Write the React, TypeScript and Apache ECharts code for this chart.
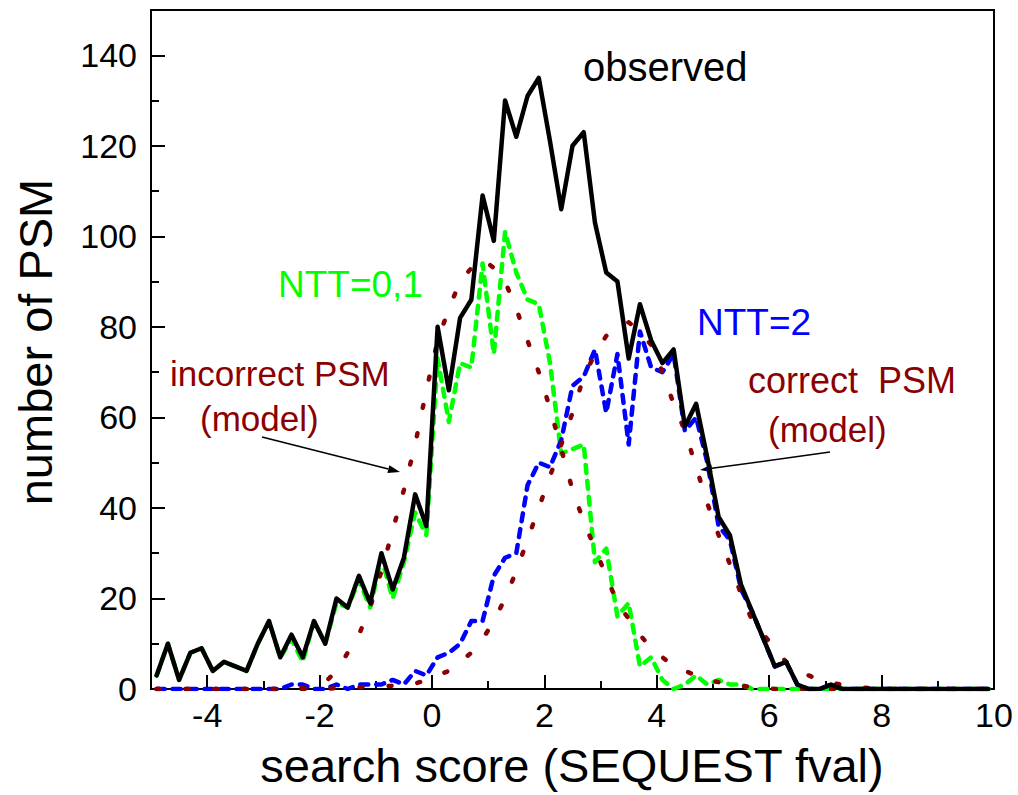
import React, { useEffect, useRef } from 'react';
import * as echarts from 'echarts';

// bin centres of the score histogram
const binCenters = [
  -4.9, -4.7, -4.5, -4.3, -4.1, -3.9, -3.7, -3.5, -3.3, -3.1,
  -2.9, -2.7, -2.5, -2.3, -2.1, -1.9, -1.7, -1.5, -1.3, -1.1,
  -0.9, -0.7, -0.5, -0.3, -0.1, 0.1, 0.3, 0.5, 0.7, 0.9,
  1.1, 1.3, 1.5, 1.7, 1.9, 2.1, 2.3, 2.5, 2.7, 2.9,
  3.1, 3.3, 3.5, 3.7, 3.9, 4.1, 4.3, 4.5, 4.7, 4.9,
  5.1, 5.3, 5.5, 5.7, 5.9, 6.1, 6.3, 6.5, 6.7, 6.9,
  7.1, 7.3, 7.5, 7.7, 7.9, 8.1, 8.3, 8.5, 8.7, 8.9,
  9.1, 9.3, 9.5, 9.7, 9.9,
];

const observed = [
  3, 10, 2, 8, 9, 4, 6, 5, 4, 10,
  15, 7, 12, 7, 15, 10, 20, 18, 25, 19,
  30, 22, 29, 43, 36, 80, 66, 82, 86, 109,
  99, 130, 122, 131, 135, 121, 106, 120, 123, 103,
  92, 90, 73, 85, 77, 72, 75, 58, 63, 51,
  38, 34, 23, 17, 11, 5, 6, 1, 0, 0,
  1, 0, 0, 0, 0, 0, 0, 0, 0, 0,
  0, 0, 0, 0, 0,
];

const ntt01 = [
  3, 10, 2, 8, 9, 4, 6, 5, 4, 10,
  15, 7, 11, 6, 15, 10, 19, 18, 24, 18,
  29, 20, 28, 39, 34, 73, 59, 72, 71, 94,
  74, 101, 92, 86, 85, 72, 52, 53, 54, 28,
  31, 16, 19, 5, 7, 2, 0, 1, 3, 1,
  2, 1, 1, 0, 0, 0, 0, 0, 0, 0,
  0, 0, 0, 0, 0, 0, 0, 0, 0, 0,
  0, 0, 0, 0, 0,
];

const ntt2 = [
  0, 0, 0, 0, 0, 0, 0, 0, 0, 0,
  0, 0, 1, 1, 0, 0, 1, 0, 1, 1,
  1, 2, 1, 4, 3, 7, 8, 10, 15, 15,
  25, 29, 30, 45, 50, 49, 55, 67, 69, 75,
  61, 74, 54, 79, 71, 70, 74, 57, 60, 50,
  36, 33, 22, 17, 11, 5, 6, 1, 0, 0,
  1, 0, 0, 0, 0, 0, 0, 0, 0, 0,
  0, 0, 0, 0, 0,
];

const incorrectModel = [
  0, 0, 0, 0, 0, 0, 0, 0, 0, 0,
  0, 0, 0, 0.3, 0.6, 1.5, 4, 8, 12, 18,
  26, 35, 44, 54, 66, 77, 84, 90, 93, 95,
  93, 90, 84, 77, 70, 62, 53, 44, 37, 31,
  25, 19, 15.5, 12, 9, 7, 5, 4, 3, 2,
  1.5, 1, 0.7, 0.4, 0.2, 0, 0, 0, 0, 0,
  0, 0, 0, 0, 0, 0, 0, 0, 0, 0,
  0, 0, 0, 0, 0,
];

const correctModel = [
  0, 0, 0, 0, 0, 0, 0, 0, 0, 0,
  0, 0, 0, 0, 0, 0, 0.2, 0.3, 0.4, 0.5,
  0.6, 0.7, 0.8, 1.2, 2, 3, 4, 6, 8, 11,
  15, 20, 26, 33, 40, 47, 54, 61, 69, 74,
  78, 80, 81, 79, 76, 70, 63, 57, 49, 41,
  34, 27.6, 21, 15, 12, 9, 6, 4.5, 3, 2,
  1.4, 0.9, 0.5, 0.3, 0.1, 0, 0, 0, 0, 0,
  0, 0, 0, 0, 0,
];

const xMajorTicks = [-4, -2, 0, 2, 4, 6, 8, 10];
const xMinorTicks = [-3, -1, 1, 3, 5, 7, 9];
const yMajorTicks = [0, 20, 40, 60, 80, 100, 120, 140];
const yMinorTicks = [10, 30, 50, 70, 90, 110, 130];

const FONT = '"Liberation Sans", Arial, Helvetica, sans-serif';
const GREEN = '#00ff00';
const BLUE = '#0000ff';
const WINE = '#8b0000';

const pairs = (vals: number[]) => binCenters.map((x, i) => [x, vals[i]]);

const txt = (text: string, x: number, y: number, color: string, size: number, align = 'left', rotation = 0) => ({
  type: 'text',
  x,
  y,
  rotation,
  silent: true,
  style: {
    text,
    fill: color,
    font: `${size}px ${FONT}`,
    textAlign: align,
    textVerticalAlign: 'middle',
    verticalAlign: 'middle',
  },
});

const arrow = (x1: number, y1: number, x2: number, y2: number) => {
  const dx = x2 - x1;
  const dy = y2 - y1;
  const len = Math.sqrt(dx * dx + dy * dy);
  const ux = dx / len;
  const uy = dy / len;
  const hl = 12;
  const hw = 4;
  const bx = x2 - ux * hl;
  const by = y2 - uy * hl;
  return [
    { type: 'line', silent: true, shape: { x1, y1, x2: bx, y2: by }, style: { stroke: '#000', lineWidth: 1.5 } },
    {
      type: 'polygon',
      silent: true,
      shape: { points: [[x2, y2], [bx - uy * hw, by + ux * hw], [bx + uy * hw, by - ux * hw]] },
      style: { fill: '#000' },
    },
  ];
};

export default function App() {
  const ref = useRef<HTMLDivElement>(null);

  useEffect(() => {
    if (!ref.current) return;
    const chart = echarts.init(ref.current, undefined, { renderer: 'svg' });

    const axisCommon = {
      type: 'value',
      splitLine: { show: false },
    };

    const lineSeries = (name: string, vals: number[], color: string, dash: any, z: number, width: number) => ({
      name,
      type: 'line',
      data: pairs(vals),
      symbol: 'none',
      showSymbol: false,
      silent: true,
      z,
      lineStyle: { color, width, type: dash, cap: 'round', join: 'round' },
    });

    chart.setOption({
      animation: false,
      backgroundColor: '#ffffff',
      grid: {
        left: 151,
        right: 24,
        top: 10,
        bottom: 106,
        show: true,
        borderColor: '#000',
        borderWidth: 2,
        backgroundColor: 'transparent',
      },
      xAxis: [
        {
          ...axisCommon,
          min: -5,
          max: 10,
          position: 'bottom',
          axisLine: { show: true, onZero: false, lineStyle: { color: '#000', width: 2 } },
          axisTick: {
            show: true,
            inside: true,
            length: 14,
            customValues: xMajorTicks,
            lineStyle: { color: '#000', width: 2 },
          },
          axisLabel: {
            show: true,
            customValues: xMajorTicks,
            color: '#000',
            fontSize: 34,
            fontFamily: FONT,
            margin: 9,
          },
        },
        {
          ...axisCommon,
          min: -5,
          max: 10,
          position: 'bottom',
          axisLine: { show: false, onZero: false },
          axisTick: {
            show: true,
            inside: true,
            length: 8,
            customValues: xMinorTicks,
            lineStyle: { color: '#000', width: 2 },
          },
          axisLabel: { show: false },
        },
      ],
      yAxis: [
        {
          ...axisCommon,
          min: 0,
          max: 150,
          position: 'left',
          axisLine: { show: true, onZero: false, lineStyle: { color: '#000', width: 2 } },
          axisTick: {
            show: true,
            inside: true,
            length: 14,
            customValues: yMajorTicks,
            lineStyle: { color: '#000', width: 2 },
          },
          axisLabel: {
            show: true,
            customValues: yMajorTicks,
            color: '#000',
            fontSize: 34,
            fontFamily: FONT,
            margin: 14,
          },
        },
        {
          ...axisCommon,
          min: 0,
          max: 150,
          position: 'left',
          axisLine: { show: false, onZero: false },
          axisTick: {
            show: true,
            inside: true,
            length: 8,
            customValues: yMinorTicks,
            lineStyle: { color: '#000', width: 2 },
          },
          axisLabel: { show: false },
        },
      ],
      series: [
        lineSeries('NTT=0,1', ntt01, GREEN, [8, 8], 2, 4.5),
        lineSeries('NTT=2', ntt2, BLUE, [8, 8], 3, 4.5),
        lineSeries('incorrect PSM (model)', incorrectModel, WINE, [3, 26], 4, 4.5),
        lineSeries('correct PSM (model)', correctModel, WINE, [3, 26], 4, 4.5),
        lineSeries('observed', observed, '#000000', 'solid', 5, 4.5),
      ],
      graphic: [
        txt('observed', 583, 67, '#000', 40),
        txt('NTT=0,1', 278, 284, GREEN, 37),
        txt('NTT=2', 697, 322, BLUE, 37),
        txt('incorrect PSM', 170, 373, WINE, 35),
        txt('(model)', 200, 418, WINE, 35),
        txt('correct\u00a0 PSM', 748, 380, WINE, 36),
        txt('(model)', 768, 429, WINE, 35),
        ...arrow(262, 437, 400, 472),
        ...arrow(830, 452, 700, 470),
        txt('search score (SEQUEST fval)', 572, 765, '#000', 47, 'center'),
        txt('number of PSM', 35, 342, '#000', 47, 'center', Math.PI / 2),
      ],
    });

    return () => {
      chart.dispose();
    };
  }, []);

  return (
    <div
      ref={ref}
      style={{ position: 'fixed', left: 0, top: 0, width: 1018, height: 795, background: '#fff' }}
    />
  );
}
